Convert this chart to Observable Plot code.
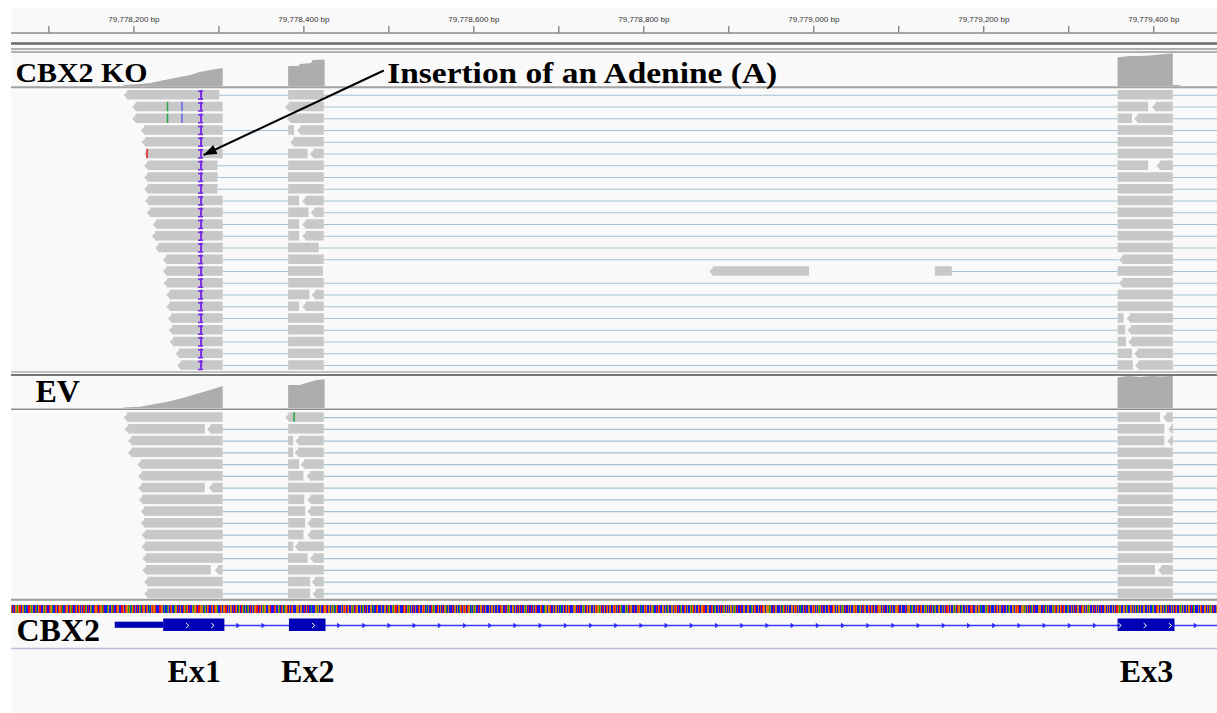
<!DOCTYPE html>
<html><head><meta charset="utf-8">
<script src="https://cdn.jsdelivr.net/npm/d3@7"></script>
<script src="https://cdn.jsdelivr.net/npm/@observablehq/plot@0.6"></script>
<style>body{margin:0;background:#fff;overflow:hidden}</style>
</head><body><div id="chart"></div>
<script>
// ---------------- data ----------------
const locus = [79778043, 79779475];            // chr view (bp)
const rulerTicks = [79778100,79778200,79778300,79778400,79778500,79778600,79778700,79778800,79778900,79779000,79779100,79779200,79779300,79779400];
const rulerLabels = [79778200,79778400,79778600,79778800,79779000,79779200,79779400];
const trackLabels = ["CBX2 KO", "EV", "CBX2"];
const exonLabels = ["Ex1", "Ex2", "Ex3"];
const annotationText = "Insertion of an Adenine (A)";
const annotationArrow = {from: 79778494, to: 79778282};
const insertionPos = 79778279;

// coverage [bp, depth]
const koCovE1 = [[79778188,1],[79778208,2],[79778220,3],[79778231,5],[79778243,7],[79778255,9],[79778267,11],[79778278,14],[79778290,16],[79778305,18]];
const koCovE2 = [[79778382,20],[79778394,20],[79778396,22],[79778409,23],[79778411,26],[79778425,26.5]];
const koCovE3 = [[79779358,28.7],[79779367,29.5],[79779372,30],[79779384,30],[79779396,30.5],[79779408,31.5],[79779423,32.7]];
const koCovTail = [[79779423,1],[79779432,1]];
const evCovE1 = [[79778188,0.5],[79778208,1.3],[79778240,6.3],[79778258,10],[79778278,15],[79778290,18],[79778305,22]];
const evCovE2 = [[79778382,23],[79778396,23],[79778404,25.3],[79778416,28],[79778425,28.7]];
const evCovE3 = [[79779358,30.5],[79779366,31.5],[79779372,32],[79779384,31],[79779390,31.5],[79779400,32],[79779408,31.5],[79779423,32]];

// reads: per row, segments [start, end, pointedLeft]
const koReads = [
 [[79778188,79778301,1],[79778382,79778424,0],[79779358,79779423,0]],
 [[79778198,79778305,1],[79778378,79778424,1],[79779358,79779394,0],[79779398,79779423,1]],
 [[79778198,79778305,1],[79778380,79778424,1],[79779358,79779375,0],[79779377,79779423,1]],
 [[79778208,79778305,1],[79778382,79778389,0],[79778392,79778424,1],[79779358,79779423,0]],
 [[79778209,79778305,1],[79778384,79778424,1],[79779358,79779423,0]],
 [[79778212,79778305,1],[79778382,79778405,0],[79778407,79778424,1],[79779358,79779423,0]],
 [[79778212,79778299,1],[79778382,79778424,0],[79779358,79779394,0],[79779403,79779423,1]],
 [[79778212,79778299,1],[79778382,79778424,0],[79779358,79779423,0]],
 [[79778212,79778299,1],[79778382,79778424,0],[79779358,79779423,0]],
 [[79778213,79778305,1],[79778382,79778395,0],[79778398,79778424,1],[79779358,79779423,0]],
 [[79778215,79778305,1],[79778382,79778406,0],[79778408,79778424,1],[79779358,79779423,0]],
 [[79778222,79778305,1],[79778382,79778395,0],[79778398,79778424,1],[79779358,79779423,0]],
 [[79778221,79778305,1],[79778382,79778395,0],[79778398,79778424,1],[79779358,79779423,0]],
 [[79778225,79778305,1],[79778382,79778418,0],[79779358,79779423,0]],
 [[79778234,79778305,1],[79778382,79778424,0],[79779359,79779423,1]],
 [[79778234,79778305,1],[79778382,79778423,0],[79778877,79778995,1],[79779143,79779163,0],[79779358,79779423,0]],
 [[79778235,79778305,1],[79778382,79778424,0],[79779359,79779423,1]],
 [[79778238,79778305,1],[79778382,79778407,0],[79778409,79778424,1],[79779358,79779423,0]],
 [[79778238,79778305,1],[79778382,79778395,0],[79778398,79778424,1],[79779358,79779423,0]],
 [[79778240,79778305,1],[79778382,79778424,0],[79779358,79779365,0],[79779368,79779423,1]],
 [[79778241,79778305,1],[79778382,79778424,0],[79779358,79779367,0],[79779369,79779423,1]],
 [[79778242,79778305,1],[79778382,79778424,0],[79779358,79779368,0],[79779370,79779423,1]],
 [[79778249,79778305,1],[79778382,79778424,0],[79779358,79779375,0],[79779377,79779423,1]],
 [[79778251,79778305,1],[79778382,79778424,0],[79779358,79779376,0],[79779378,79779423,1]]
];
const koNoLink = [[1,0],[2,0],[4,0],[15,1],[15,2]];
const koMismatches = [[1,79778239,"A"],[1,79778256,"C"],[2,79778239,"A"],[2,79778256,"C"],[5,79778215,"T"]];

const evReads = [
 [[79778188,79778305,1],[79778378,79778424,1],[79779358,79779408,0],[79779411,79779423,1]],
 [[79778189,79778284,1],[79778286,79778305,1],[79778382,79778424,0],[79779358,79779413,0],[79779417,79779423,1]],
 [[79778193,79778305,1],[79778382,79778388,0],[79778390,79778424,1],[79779358,79779413,0],[79779416,79779423,1]],
 [[79778193,79778305,1],[79778382,79778388,0],[79778389,79778424,1],[79779358,79779423,0]],
 [[79778204,79778305,1],[79778382,79778395,0],[79778396,79778424,1],[79779358,79779423,0]],
 [[79778205,79778305,1],[79778382,79778400,0],[79778403,79778424,1],[79779358,79779423,0]],
 [[79778205,79778284,1],[79778288,79778305,1],[79778382,79778424,0],[79779358,79779423,0]],
 [[79778206,79778305,1],[79778382,79778401,0],[79778404,79778424,1],[79779358,79779423,0]],
 [[79778208,79778305,1],[79778382,79778402,0],[79778404,79778424,1],[79779358,79779423,0]],
 [[79778208,79778305,1],[79778382,79778402,0],[79778404,79778424,1],[79779358,79779423,0]],
 [[79778209,79778305,1],[79778382,79778400,0],[79778404,79778424,1],[79779358,79779423,0]],
 [[79778209,79778305,1],[79778382,79778388,0],[79778389,79778424,1],[79779358,79779423,0]],
 [[79778210,79778305,1],[79778382,79778405,0],[79778407,79778424,1],[79779358,79779423,0]],
 [[79778210,79778291,1],[79778295,79778305,1],[79778382,79778424,0],[79779358,79779402,0],[79779405,79779423,1]],
 [[79778212,79778305,1],[79778382,79778408,0],[79778409,79778424,1],[79779358,79779423,0]],
 [[79778212,79778305,1],[79778382,79778408,0],[79778410,79778424,1],[79779358,79779423,0]]
];
const evNoLink = [[0,0]];
const evMismatches = [[0,79778388,"A"]];

// gene model
const geneUTR = [79778178, 79778235];
const geneExons = [[79778235,79778307],[79778383,79778426],[79779358,79779425]];
const geneStrandStart = 79778263, geneStrandStep = 29.65;

// reference sequence shown in the sequence track
const seqStart = 79778056;
const refSeq = [
"GCTCCGGAGTCTCGGCGACCTTGCAGCCTAGCGTTCCCGAGTCGCTGGACTCTGCTCGGTACCGTGGCTG",
"CATCCTGGCTGCGCCTTAGCGTCGACGCTGGTCCTGGATCTCCAGCTCGATCCGTGGCCTGTGCTGCGAG",
"CAGCTCGCTCAGACTGCGCTGCAGCGTGGTGCCCTTCGGCACCGAGCTGCTCAGGCCTCGCCTCGATGCT",
"GCCGAGCGTCTTGCGGCAGCCGTCCTCGCTGGAGCCTGCGCGTTCGACGGCTCCTGCAGCGTGACGCCAG",
"CTCGGCGGTTCCTGCGCAGGCCGTGTCCCTCGCCGAGCTGCAGCGTCGCTTGCCCGAGGCGGCTCTCGCG",
"TCCACCGCGGAGCTGCCTGCGTCGGCTGAGCAGCTCCCGGCGTGCTCGCCGAGCCTGGCACGCAGCTTCG",
"CCGGGCACCGTGCCCGTCCGGCTCAGCCGGAGTTCGCGCCCTGCTCGAGCCGCTCGTCCTGCCGGTGCAG",
"CGCCTGCAGCCTGGCGCTCCGGACGCTCCTCGGCCGCAGCTCGTGCCTGGCACCGAGCCCTCGGCTGCGC",
"CCGACGGCGTCCGCCTTGGCCTCGGAGCCCGGCGCTACGCTCCCGAGCTGCCTCGCGGTCCCGCTCCAGC",
"GCGGTCCCGCGGCTGCACCGGCTGCGATCCCGGCGCTCTGCCGAGCCTGCGGCTCGCGTCGGAGCTCCGC",
"TGCCGGCCGTTGCGCTCGACCCGGAGCTGCGCCTCCGGTGCAGCCGTGCCCGCGGAGCCTCGCTCCGGCT",
"GCAGCCCGGCGTCGCTCAGCCCTGCGGCCGAGCTCGCCGCTCGGTTCCCGGCGCTGCAGCCCGCTCCTAG",
"CGCCGCGGCCGAGCTCGCTCCGTGCCGGCGCAGCGTCCCGCTCCTGGCGCGGAGCCCTCGGCGCCGCAGT",
"TCGCGCCCGGCGCTGCGCAGCCGCTCTCGGCCCGTGCGCGGAGCTCCCGCCGCTCCTGGACGCGGCCGAG",
"CTGCCGCGCCCGGTGCGCAGCTCCGGCCGCTCGTCGCCCTGGAGCGCTCCCGCAGCTGCCGGCGTCCGCG",
"CCTCGGCGCAGCCCGCGTCCTGCCGGAGCGCTCCGCAGCTCGGCCCGCGCTTCGCGCCGGAGCTGCGCAG",
"CCCGCGCCTGGTCCGCGCGGCAGCCCGAGCTCGCCGCGCTGCCGGCCTCGCGCAGCCCGGCGCTGTCCGC",
"GGAGCCGCTCAGGCTCCCGCGGCCTGCAGCGCGCCGAGTCCGGCGCTCTGCCCAGCCGCGGCTCGCGCCT",
"GGCCGCGAGCCCGCTGCGCGCCGTCCGGCAGCGCCCGCGCTTGGAGCCGCGCGACCCGGCGCTGCAGCGC",
"CCGGCTCGCGCCGAGCCTGCGCGGCCGCAGCTCCCGCGCGTGCCGGAGCGCCCGCGGCTGCAGCCGCGCG",
"TCCCGGCGCCGAGCTGCCGCGCGCCTCGGCAGCCCGCGCGTTCCGGCGCAGCCCTGCGCGCGAGCCGGCT",
"CGCCGCGCAGCCCGGCGTCCGCGCCTGCGGAGCCGCGCAGCTCCCGGCGCGCTGCCGAGCCCGCGGCGTC"
].join("");

// ---------------- layout / style ----------------
const W = 1217, H = 713;
const PITCH = 11.75, READ_H = 9.5;
const KO_TOP = 90, EV_TOP = 412.3;
const KO_COV_BASE = 86, EV_COV_BASE = 408;
const ARROW_Y = [70, 154.5];
const baseColor = {A:"#12a02e", C:"#1a1aff", G:"#d67a0a", T:"#ff1010"};
const mmColor = {A:"#2ea84a", C:"#6a6af0", G:"#d17105", T:"#e02828"};
const READ = "#c8c8c8", COV = "#adadad", LINK = "#a3c1d4";
const serif = "Liberation Serif, Times New Roman, serif";

function buildRows(rows, noLink, top0) {
  const segs = [], links = [];
  rows.forEach((row, i) => {
    const top = top0 + i * PITCH;
    row.forEach((s, j) => {
      segs.push({row: i, top, x1: s[0], x2: s[1], p: s[2]});
      const next = row[j + 1];
      const nl = noLink.some(([r, k]) => r === i && k === j);
      if (next && next[0] - s[1] > 20 && !nl) links.push({top, x1: s[1], x2: next[0]});
    });
    links.push({top, x1: row[row.length - 1][1], x2: locus[1]});
  });
  return {segs, links};
}
const ko = buildRows(koReads, koNoLink, KO_TOP);
const ev = buildRows(evReads, evNoLink, EV_TOP);

function covData(parts, base) {
  return parts.flatMap(([name, arr]) => arr.map(([bp, d]) => ({part: name, bp, base, top: base - d})));
}
const cov = [
  ...covData([["e1", koCovE1], ["e2", koCovE2], ["e3", koCovE3], ["t", koCovTail]], KO_COV_BASE),
  ...covData([["f1", evCovE1], ["f2", evCovE2], ["f3", evCovE3]], EV_COV_BASE)
];

const seqData = Array.from(refSeq, (b, i) => ({bp: seqStart + i, b})).filter(d => d.bp < locus[1]);

const leftTip = {draw(ctx) { ctx.moveTo(0, 0); ctx.lineTo(4.6, -READ_H / 2); ctx.lineTo(4.6, READ_H / 2); ctx.closePath(); }};
const intronArrow = {draw(ctx) { ctx.moveTo(-1.6, -2.7); ctx.lineTo(2.2, 0); ctx.lineTo(-1.6, 2.7); ctx.closePath(); }};
const chevron = {draw(ctx) { ctx.moveTo(-1.4, -2.4); ctx.lineTo(1.4, 0); ctx.lineTo(-1.4, 2.4); }};
const arrowHead = {draw(ctx) { ctx.moveTo(0, 0); ctx.lineTo(-13, -5); ctx.lineTo(-13, 5); ctx.closePath(); }};

const strandMarks = d3.range(geneStrandStart, locus[1], geneStrandStep);
const inExon = x => geneExons.some(([a, b]) => x > a + 2 && x < b - 2);
const exonMarks = strandMarks.filter(inExon);
const intronMarks = strandMarks.filter(x => x > geneExons[0][1] + 3 && !geneExons.some(([a, b]) => x > a - 3 && x < b + 3));

// arrow head orientation (screen angle of the annotation arrow)
const xPix = d3.scaleLinear(locus, [0, W]);
const headAngle = Math.atan2(ARROW_Y[1] - ARROW_Y[0], xPix(annotationArrow.to) - xPix(annotationArrow.from)) * 180 / Math.PI;

function readMarks(rs, mismatches, withInsertion) {
  const topOf = r => rs.segs.find(s => s.row === r).top;
  const m = [
    Plot.ruleY(rs.links, {x1: "x1", x2: "x2", y: d => d.top + READ_H / 2, stroke: LINK, strokeWidth: 1.2}),
    Plot.rect(rs.segs.filter(d => !d.p), {x1: "x1", x2: "x2", y1: "top", y2: d => d.top + READ_H, fill: READ}),
    Plot.rect(rs.segs.filter(d => d.p), {x1: "x1", x2: "x2", y1: "top", y2: d => d.top + READ_H, fill: READ, insetLeft: 4}),
    Plot.dot(rs.segs.filter(d => d.p), {x: "x1", y: d => d.top + READ_H / 2, symbol: leftTip, fill: READ, stroke: "none", r: 3}),
    Plot.ruleX(mismatches, {x: d => d[1] + 0.5, y1: d => topOf(d[0]), y2: d => topOf(d[0]) + READ_H, stroke: d => mmColor[d[2]], strokeWidth: 1.6})
  ];
  if (withInsertion) {
    const tops = [...new Set(rs.segs.map(s => s.top))];
    m.push(
      Plot.ruleX(tops, {x: insertionPos, y1: d => d, y2: d => d + READ_H, stroke: "#7a2be8", strokeWidth: 2}),
      Plot.ruleY(tops, {y: d => d + 0.8, x1: insertionPos - 3, x2: insertionPos + 3, stroke: "#7a2be8", strokeWidth: 1.6}),
      Plot.ruleY(tops, {y: d => d + READ_H - 0.8, x1: insertionPos - 3, x2: insertionPos + 3, stroke: "#7a2be8", strokeWidth: 1.6})
    );
  }
  return m;
}

const seps = [
  {y: 32.5, w: 1, c: "#555"}, {y: 43, w: 2.6, c: "#6a6a6a"}, {y: 48.5, w: 1, c: "#666"}, {y: 51.5, w: 1, c: "#666"},
  {y: 86.8, w: 2, c: "#a2a2a2"}, {y: 371.5, w: 1, c: "#8a8a8a"}, {y: 374.6, w: 2, c: "#777"},
  {y: 408.8, w: 1.5, c: "#8e8e8e"}, {y: 599.2, w: 2, c: "#9a9a9a"}, {y: 648, w: 1.5, c: "#bcbcdc"}
];

const chart = Plot.plot({
  width: W, height: H, margin: 0,
  x: {domain: locus, range: [0, W], axis: null},
  y: {domain: [0, H], range: [0, H], axis: null},
  style: {background: "#fff", overflow: "hidden"},
  marks: [
    Plot.frame({fill: "#f9f9f9", stroke: "none", insetLeft: 11, insetTop: 8}),
    // ruler
    Plot.ruleX(rulerTicks, {x: d => d, y1: 26, y2: 32.5, stroke: "#555", strokeWidth: 1}),
    Plot.text(rulerLabels, {x: d => d, y: 18.5, text: d => d3.format(",")(d) + " bp", fontSize: 8, fill: "#333", fontFamily: "Liberation Sans, Arial, sans-serif"}),
    // separators
    ...seps.map(s => Plot.ruleY([s.y], {stroke: s.c, strokeWidth: s.w, insetLeft: 11})),
    // coverage
    Plot.areaY(cov, {x: "bp", y1: "base", y2: "top", z: "part", fill: COV, curve: "linear"}),
    // reads
    ...readMarks(ko, koMismatches, true),
    ...readMarks(ev, evMismatches, false),
    // sequence
    Plot.rect(seqData, {x1: "bp", x2: d => d.bp + 1.2, y1: 605, y2: 613, fill: d => baseColor[d.b], shapeRendering: "crispEdges"}),
    // gene
    Plot.ruleY([625], {x1: geneExons[0][0], x2: locus[1], stroke: "#3a3aff", strokeWidth: 1.3}),
    Plot.dot(intronMarks, {x: d => d, y: 625, symbol: intronArrow, fill: "#2a2aff", stroke: "none", r: 2}),
    Plot.rect([geneUTR], {x1: d => d[0], x2: d => d[1], y1: 621.7, y2: 627.8, fill: "#0000b4"}),
    Plot.rect(geneExons, {x1: d => d[0], x2: d => d[1], y1: 618.5, y2: 631, fill: "#0000b4"}),
    Plot.dot(exonMarks, {x: d => d, y: 625, symbol: chevron, fill: "none", stroke: "white", strokeWidth: 1, r: 2}),
    // labels
    Plot.text([trackLabels[0]], {frameAnchor: "left", dx: 15, y: 73, text: d => d, textAnchor: "start", fontSize: 28, fontWeight: "bold", fontFamily: serif, fill: "#000"}),
    Plot.text([trackLabels[1]], {frameAnchor: "left", dx: 35, y: 391.5, text: d => d, textAnchor: "start", fontSize: 32, fontWeight: "bold", fontFamily: serif, fill: "#000"}),
    Plot.text([trackLabels[2]], {frameAnchor: "left", dx: 16, y: 630.5, text: d => d, textAnchor: "start", fontSize: 32, fontWeight: "bold", fontFamily: serif, fill: "#000"}),
    Plot.text(exonLabels, {x: (d, i) => (geneExons[i][0] + geneExons[i][1]) / 2, y: 671.5, text: d => d, fontSize: 32, fontWeight: "bold", fontFamily: serif, fill: "#000"}),
    // annotation
    Plot.text([annotationText], {x: annotationArrow.from + 4, y: 73.5, text: d => d, textAnchor: "start", fontSize: 29, fontWeight: "bold", fontFamily: serif, fill: "#000"}),
    Plot.link([annotationArrow], {x1: "from", x2: "to", y1: ARROW_Y[0], y2: ARROW_Y[1], stroke: "#000", strokeWidth: 2}),
    Plot.dot([annotationArrow], {x: "to", y: ARROW_Y[1], symbol: arrowHead, rotate: headAngle, fill: "#000", stroke: "none", r: 3})
  ]
});
document.getElementById("chart").appendChild(chart);
const stretch = {"CBX2 KO": 132, "Insertion of an Adenine (A)": 390};
d3.select(chart).selectAll("text").each(function () {
  const t = this.textContent;
  if (stretch[t]) d3.select(this).attr("textLength", stretch[t]).attr("lengthAdjust", "spacingAndGlyphs");
});
</script>
</body></html>
